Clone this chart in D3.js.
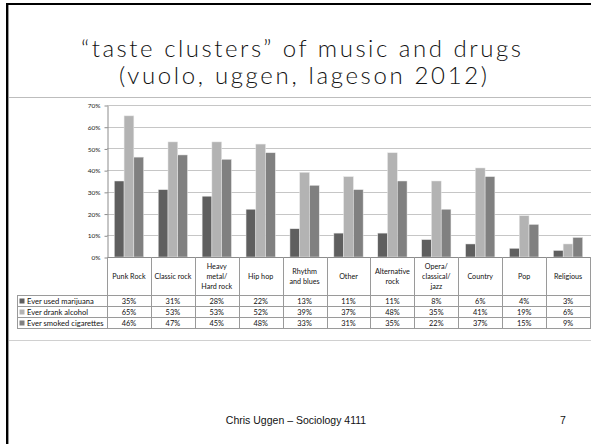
<!DOCTYPE html>
<html>
<head>
<meta charset="utf-8">
<script src="https://cdn.jsdelivr.net/npm/d3@7"></script>
<style>
  html, body { margin: 0; padding: 0; background: #fff; }
  svg { display: block; }
</style>
</head>
<body>
<svg id="slide" width="591" height="444"></svg>
<script>
// Music taste clusters and substance use (share of respondents)
const categories = [
  ["Punk Rock"], ["Classic rock"], ["Heavy", "metal/", "Hard rock"], ["Hip hop"],
  ["Rhythm", "and blues"], ["Other"], ["Alternative", "rock"], ["Opera/", "classical/", "jazz"],
  ["Country"], ["Pop"], ["Religious"]
];
const seriesNames = ["Ever used marijuana", "Ever drank alcohol", "Ever smoked cigarettes"];
const marijuana  = [35, 31, 28, 22, 13, 11, 11, 8, 6, 4, 3];
const alcohol    = [65, 53, 53, 52, 39, 37, 48, 35, 41, 19, 6];
const cigarettes = [46, 47, 45, 48, 33, 31, 35, 22, 37, 15, 9];
const yTicks = [0, 10, 20, 30, 40, 50, 60, 70];
const seriesColors = ["#5f5f5f", "#b3b3b3", "#808080"];

const series = [marijuana, alcohol, cigarettes];
const catKeys = categories.map(c => c.join(" "));

const svg = d3.select("#slide");

// slide frame
svg.append("rect").attr("x", 6).attr("y", 3).attr("width", 600).attr("height", 2).attr("fill", "#000");
svg.append("rect").attr("x", 6).attr("y", 3).attr("width", 2).attr("height", 450).attr("fill", "#000");
svg.append("rect").attr("x", 8).attr("y", 5).attr("width", 1).attr("height", 450).attr("fill", "#999");
svg.append("line").attr("x1", 9).attr("x2", 591).attr("y1", 97.5).attr("y2", 97.5).attr("stroke", "#bdbdbd");
svg.append("line").attr("x1", 9).attr("x2", 591).attr("y1", 340.5).attr("y2", 340.5).attr("stroke", "#d0d0d0");

// title
const titleFont = "Lato, 'Open Sans', sans-serif";
svg.append("text").attr("text-anchor", "middle")
  .attr("font-family", titleFont).attr("font-weight", 300).attr("font-size", 24).attr("fill", "#111")
  .attr("x", 301).attr("y", 57)
  .attr("textLength", 440).attr("lengthAdjust", "spacing")
  .text("\u201Ctaste clusters\u201D of music and drugs");
svg.append("text").attr("text-anchor", "middle")
  .attr("font-family", titleFont).attr("font-weight", 300).attr("font-size", 24).attr("fill", "#111")
  .attr("x", 303).attr("y", 84)
  .attr("textLength", 368).attr("lengthAdjust", "spacing")
  .text("(vuolo, uggen, lageson 2012)");

// chart scales
const x = d3.scaleBand().domain(catKeys).range([107, 590]);
const inner = d3.scaleBand().domain([0, 1, 2])
  .range([0, x.bandwidth()]).paddingInner(0).paddingOuter(0.75);
const y = d3.scaleLinear().domain([0, 70]).range([257, 105]);

// gridlines
svg.append("g").selectAll("line").data(yTicks.filter(t => t > 0)).join("line")
  .attr("x1", 107).attr("x2", 591)
  .attr("y1", d => Math.round(y(d)) + 0.5).attr("y2", d => Math.round(y(d)) + 0.5)
  .attr("stroke", "#c6c6c6");

// y axis
const yAxis = svg.append("g").attr("transform", "translate(107.5,0.5)")
  .call(d3.axisLeft(y).tickValues(yTicks).tickFormat(d => d + "%").tickSize(3).tickSizeOuter(0).tickPadding(4));
yAxis.select(".domain").attr("stroke", "#8c8c8c");
yAxis.selectAll(".tick line").attr("stroke", "#8c8c8c");
yAxis.selectAll("text").attr("font-family", "Lato, sans-serif").attr("font-size", 6.5).attr("fill", "#222");

// bars
const groups = svg.append("g").selectAll("g").data(catKeys).join("g")
  .attr("transform", d => `translate(${x(d)},0)`);
groups.selectAll("rect").data((d, i) => series.map((s, k) => ({k, v: s[i]}))).join("rect")
  .attr("x", d => inner(d.k))
  .attr("width", inner.bandwidth())
  .attr("y", d => y(d.v))
  .attr("height", d => y(0) - y(d.v))
  .attr("fill", d => seriesColors[d.k])
  .attr("stroke", "#e8e8e8").attr("stroke-width", 0.5);

// data table
const tableFont = "Lato, sans-serif";
const headerBottom = 295, rowH = 11;
const rowTop = i => headerBottom + i * rowH;
const tableBottom = rowTop(3);
const lineColor = "#9a9a9a";

// x axis line
svg.append("line").attr("x1", 107).attr("x2", 591).attr("y1", 257.5).attr("y2", 257.5).attr("stroke", "#8c8c8c");

// column separators
const bounds = catKeys.map(k => x(k)).concat([x.range()[1]]);
svg.append("g").selectAll("line").data(bounds).join("line")
  .attr("x1", d => Math.round(d) + 0.5).attr("x2", d => Math.round(d) + 0.5)
  .attr("y1", 257).attr("y2", tableBottom)
  .attr("stroke", lineColor);
// row header left border
svg.append("line").attr("x1", 17.5).attr("x2", 17.5).attr("y1", headerBottom).attr("y2", tableBottom).attr("stroke", lineColor);
// horizontal rules
svg.append("g").selectAll("line").data([0, 1, 2, 3]).join("line")
  .attr("x1", 17).attr("x2", 591)
  .attr("y1", d => rowTop(d) + 0.5).attr("y2", d => rowTop(d) + 0.5)
  .attr("stroke", lineColor);

// category labels
svg.append("g").selectAll("text").data(categories).join("text")
  .attr("text-anchor", "middle").attr("font-family", tableFont).attr("font-size", 7.2).attr("fill", "#111")
  .each(function(lines, i) {
    const cx = x(catKeys[i]) + x.bandwidth() / 2;
    const t = d3.select(this);
    const y0 = 278.5 - (lines.length - 1) * 5;
    lines.forEach((ln, j) => t.append("tspan").attr("x", cx).attr("y", y0 + j * 10).text(ln));
  });

// row headers with legend keys
const rows = svg.append("g").selectAll("g").data(seriesNames).join("g");
rows.append("rect").attr("x", 19.5).attr("y", (d, i) => rowTop(i) + 3.5).attr("width", 5).attr("height", 5)
  .attr("fill", (d, i) => seriesColors[i]);
rows.append("text").attr("x", 27).attr("y", (d, i) => rowTop(i) + 8.5)
  .attr("font-family", tableFont).attr("font-size", 7.6).attr("fill", "#111").text(d => d);

// values
series.forEach((s, r) => {
  svg.append("g").selectAll("text").data(s).join("text")
    .attr("x", (d, i) => x(catKeys[i]) + x.bandwidth() / 2)
    .attr("y", rowTop(r) + 8.5)
    .attr("text-anchor", "middle").attr("font-family", tableFont).attr("font-size", 7.4).attr("fill", "#111")
    .text(d => d + "%");
});

// footer
svg.append("text").attr("x", 296).attr("y", 424).attr("text-anchor", "middle")
  .attr("font-family", "'Liberation Sans', Arial, sans-serif").attr("font-size", 10.5).attr("fill", "#111")
  .text("Chris Uggen \u2013 Sociology 4111");
svg.append("text").attr("x", 563).attr("y", 424).attr("text-anchor", "middle")
  .attr("font-family", "'Liberation Sans', Arial, sans-serif").attr("font-size", 10.5).attr("fill", "#111")
  .text("7");
</script>
</body>
</html>
